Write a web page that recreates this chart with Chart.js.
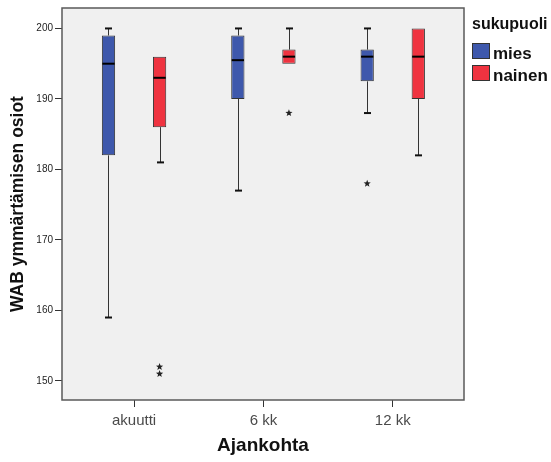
<!DOCTYPE html>
<html>
<head>
<meta charset="utf-8">
<script src="https://cdn.jsdelivr.net/npm/chart.js@4/dist/chart.umd.min.js"></script>
<style>
  body { margin: 0; background: #fff; }
  #wrap { position: relative; width: 551px; height: 462px; }
  #legend { position: absolute; left: 0; top: 0; font-family: "Liberation Sans", Arial, sans-serif; font-weight: bold; color: #111; }
  .lg-title { position: absolute; left: 472px; top: 16px; font-size: 16px; line-height: 16px; white-space: nowrap; }
  .lg-box { position: absolute; left: 472px; width: 16px; height: 14px; border: 1px solid #333; }
  .lg-text { position: absolute; left: 493px; font-size: 17px; line-height: 17px; white-space: nowrap; }
</style>
</head>
<body>
<div id="wrap">
  <canvas id="chart" width="551" height="462"></canvas>
  <div id="legend"></div>
</div>
<script>
// ── Data ──
const categories = ['akuutti', '6 kk', '12 kk'];
const groups = ['mies', 'nainen'];
const legendTitle = 'sukupuoli';
const yTickValues = [150, 160, 170, 180, 190, 200];

// five-number summaries per timepoint
const miesLow      = [159, 177, 188];
const miesQ1       = [182, 190, 192.5];
const miesMedian   = [195, 195.5, 196];
const miesQ3       = [199, 199, 197];
const miesHigh     = [200, 200, 200];
const miesOutliers = [[], [], [178]];

const nainenLow      = [181, 195, 182];
const nainenQ1       = [186, 195, 190];
const nainenMedian   = [193, 196, 196];
const nainenQ3       = [196, 197, 200];
const nainenHigh     = [196, 200, 200];
const nainenOutliers = [[152, 151], [188], []];

// ── Styles ──
const groupColors = ['#3e58ac', '#ef3340'];
const FONT = '"Liberation Sans", Arial, sans-serif';

function boxDataset(label, color, low, q1, median, q3, high, outliers) {
  return {
    label: label,
    data: q1.map(function(v, i) { return { x: i + 1, y: [v, q3[i]] }; }),
    backgroundColor: color,
    borderColor: '#333',
    borderWidth: 1,
    borderSkipped: false,
    categoryPercentage: 0.79,
    barPercentage: 0.26,
    stats: { low: low, median: median, high: high, outliers: outliers }
  };
}

function drawStar(ctx, x, y, r) {
  ctx.beginPath();
  for (let k = 0; k < 10; k++) {
    const rad = k % 2 === 0 ? r : r * 0.42;
    const a = -Math.PI / 2 + k * Math.PI / 5;
    const px = x + rad * Math.cos(a), py = y + rad * Math.sin(a);
    if (k === 0) ctx.moveTo(px, py); else ctx.lineTo(px, py);
  }
  ctx.closePath();
  ctx.fill();
}

// plot background, whiskers, medians, outliers and frame
const boxplotExtras = {
  id: 'boxplotExtras',
  beforeDraw(chart) {
    const a = chart.chartArea, ctx = chart.ctx;
    ctx.save();
    ctx.fillStyle = '#f0f0f0';
    ctx.fillRect(a.left, a.top, a.right - a.left, a.bottom - a.top);
    ctx.restore();
  },
  afterDatasetsDraw(chart) {
    const ctx = chart.ctx, y = chart.scales.y;
    ctx.save();
    chart.data.datasets.forEach(function(ds, di) {
      const meta = chart.getDatasetMeta(di);
      const s = ds.stats;
      meta.data.forEach(function(el, i) {
        const x = Math.round(el.x) + 0.5;
        const half = el.width / 2;
        const q1 = ds.data[i].y[0], q3 = ds.data[i].y[1];
        // whiskers
        [[q3, s.high[i]], [q1, s.low[i]]].forEach(function(w) {
          if (w[0] === w[1]) return;
          ctx.strokeStyle = '#333';
          ctx.lineWidth = 1;
          ctx.beginPath();
          ctx.moveTo(x, y.getPixelForValue(w[0]));
          ctx.lineTo(x, y.getPixelForValue(w[1]));
          ctx.stroke();
          ctx.strokeStyle = '#111';
          ctx.lineWidth = 2;
          ctx.beginPath();
          ctx.moveTo(x - 3.5, y.getPixelForValue(w[1]));
          ctx.lineTo(x + 3.5, y.getPixelForValue(w[1]));
          ctx.stroke();
        });
        // median
        ctx.strokeStyle = '#000';
        ctx.lineWidth = 2;
        ctx.beginPath();
        ctx.moveTo(el.x - half + 0.5, y.getPixelForValue(s.median[i]));
        ctx.lineTo(el.x + half - 0.5, y.getPixelForValue(s.median[i]));
        ctx.stroke();
        // extreme values
        ctx.fillStyle = '#222';
        s.outliers[i].forEach(function(v) {
          drawStar(ctx, el.x, y.getPixelForValue(v), 3.8);
        });
      });
    });
    ctx.restore();
  },
  afterDraw(chart) {
    const a = chart.chartArea, ctx = chart.ctx;
    ctx.save();
    ctx.strokeStyle = '#5a5a5a';
    ctx.lineWidth = 1.5;
    ctx.strokeRect(a.left, a.top, a.right - a.left, a.bottom - a.top);
    ctx.restore();
  }
};

new Chart(document.getElementById('chart'), {
  type: 'bar',
  data: {
    datasets: [
      boxDataset(groups[0], groupColors[0], miesLow, miesQ1, miesMedian, miesQ3, miesHigh, miesOutliers),
      boxDataset(groups[1], groupColors[1], nainenLow, nainenQ1, nainenMedian, nainenQ3, nainenHigh, nainenOutliers)
    ]
  },
  options: {
    responsive: false,
    animation: false,
    layout: { padding: { left: 0, top: 8, right: 87, bottom: 0 } },
    plugins: { legend: { display: false }, tooltip: { enabled: false } },
    scales: {
      x: {
        type: 'linear',
        min: 0.443,
        max: 3.551,
        offset: false,
        afterBuildTicks: function(scale) {
          scale.ticks = categories.map(function(c, i) { return { value: i + 1 }; });
        },
        afterFit: function(scale) { scale.height = 62; },
        ticks: {
          autoSkip: false,
          maxRotation: 0,
          padding: 5,
          color: '#4a4a4a',
          font: { family: FONT, size: 15 },
          callback: function(v) { return categories[v - 1]; }
        },
        grid: { offset: false, drawOnChartArea: false, drawTicks: true, tickLength: 7, color: '#333' },
        border: { display: false },
        title: {
          display: true,
          text: 'Ajankohta',
          color: '#111',
          font: { family: FONT, size: 19, weight: 'bold' },
          padding: { top: 0, bottom: 5 }
        }
      },
      y: {
        min: 147.3,
        max: 202.9,
        afterBuildTicks: function(scale) {
          scale.ticks = yTickValues.map(function(v) { return { value: v }; });
        },
        afterFit: function(scale) { scale.width = 62; },
        ticks: { padding: 2, color: '#222', font: { family: FONT, size: 10 } },
        grid: { drawOnChartArea: false, drawTicks: true, tickLength: 7, color: '#333' },
        border: { display: false },
        title: {
          display: true,
          text: 'WAB ymmärtämisen osiot',
          color: '#111',
          font: { family: FONT, size: 17.5, weight: 'bold' },
          padding: { top: 7.5, bottom: 0 }
        }
      }
    }
  },
  plugins: [boxplotExtras]
});

// ── Legend ──
(function() {
  const lg = document.getElementById('legend');
  let html = '<div class="lg-title">' + legendTitle + '</div>';
  groups.forEach(function(g, i) {
    const top = 43 + i * 22;
    html += '<div class="lg-box" style="top:' + top + 'px;background:' + groupColors[i] + '"></div>';
    html += '<div class="lg-text" style="top:' + (top + 1.5) + 'px">' + g + '</div>';
  });
  lg.innerHTML = html;
})();
</script>
</body>
</html>
